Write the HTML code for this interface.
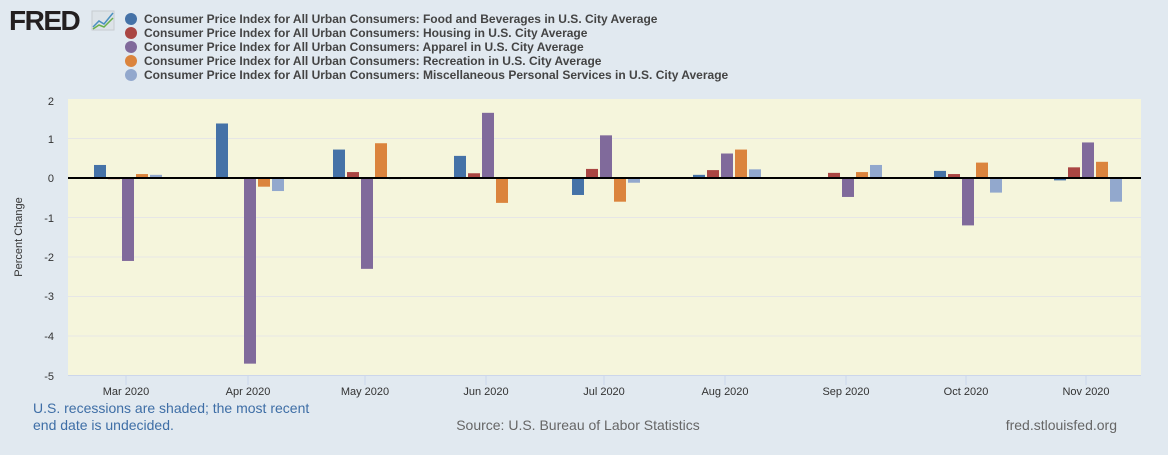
<!DOCTYPE html>
<html><head><meta charset="utf-8"><style>
body{margin:0;background:#e1e9f0;font-family:"Liberation Sans",sans-serif;}
</style></head><body>
<svg width="1168" height="450" xmlns="http://www.w3.org/2000/svg" font-family="Liberation Sans, sans-serif">
<rect width="1168" height="450" fill="#e1e9f0"/>
<text x="9" y="30" font-size="28" font-weight="bold" fill="#231f20" letter-spacing="-1.5">FRED</text>
<rect x="92" y="11" width="22" height="19" fill="#dde3e8" stroke="#c8ccd0"/>
<polyline points="93,27 99,21 104,24 113,13" fill="none" stroke="#4a90c0" stroke-width="1.5"/>
<polyline points="93,29 99,25 104,27 113,18" fill="none" stroke="#6ab04c" stroke-width="1.5"/>
<g font-size="12" font-weight="bold" fill="#444">
<circle cx="131" cy="19" r="6" fill="#4572a7"/><text x="144" y="23">Consumer Price Index for All Urban Consumers: Food and Beverages in U.S. City Average</text>
<circle cx="131" cy="33" r="6" fill="#aa4643"/><text x="144" y="37">Consumer Price Index for All Urban Consumers: Housing in U.S. City Average</text>
<circle cx="131" cy="47" r="6" fill="#806a9b"/><text x="144" y="51">Consumer Price Index for All Urban Consumers: Apparel in U.S. City Average</text>
<circle cx="131" cy="61" r="6" fill="#db843d"/><text x="144" y="65">Consumer Price Index for All Urban Consumers: Recreation in U.S. City Average</text>
<circle cx="131" cy="75" r="6" fill="#92a8cd"/><text x="144" y="79">Consumer Price Index for All Urban Consumers: Miscellaneous Personal Services in U.S. City Average</text>
</g>
<rect x="68" y="99" width="1073" height="276" fill="#f5f5dc"/>
<g stroke="#e6e6e6" stroke-width="1">
<line x1="68" x2="1141" y1="138.5" y2="138.5"/><line x1="68" x2="1141" y1="217.5" y2="217.5"/>
<line x1="68" x2="1141" y1="257" y2="257"/><line x1="68" x2="1141" y1="296.5" y2="296.5"/><line x1="68" x2="1141" y1="336" y2="336"/>
</g>
<line x1="68" x2="1141" y1="375.5" y2="375.5" stroke="#ccd6eb"/>
<g font-size="11" fill="#333" text-anchor="end">
<text x="54" y="105">2</text><text x="54" y="143">1</text><text x="54" y="182">0</text><text x="54" y="222">-1</text><text x="54" y="261">-2</text><text x="54" y="300">-3</text><text x="54" y="340">-4</text><text x="54" y="380">-5</text>
</g>
<text transform="translate(22,237) rotate(-90)" font-size="11" fill="#333" text-anchor="middle">Percent Change</text>
<g id="bars"></g>
<line x1="68" x2="1141" y1="178" y2="178" stroke="#000" stroke-width="2"/>
<g id="ticks" font-size="11" fill="#333" text-anchor="middle"></g>
<text x="33" y="413" font-size="14" fill="#3e6ea6">U.S. recessions are shaded; the most recent</text>
<text x="33" y="430" font-size="14" fill="#3e6ea6">end date is undecided.</text>
<text x="578" y="430" font-size="14" fill="#666" text-anchor="middle">Source: U.S. Bureau of Labor Statistics</text>
<text x="1117" y="430" font-size="14" fill="#666" text-anchor="end">fred.stlouisfed.org</text>
<script>
var ns="http://www.w3.org/2000/svg";
var ticks=[126,248,365,486,604,725,846,966,1086];
var names=["Mar 2020","Apr 2020","May 2020","Jun 2020","Jul 2020","Aug 2020","Sep 2020","Oct 2020","Nov 2020"];
var d=[[0.33,-0.03,-2.1,0.1,0.08],[1.38,0,-4.7,-0.22,-0.33],[0.72,0.15,-2.3,0.88,-0.03],[0.56,0.12,1.65,-0.63,0],[-0.43,0.23,1.08,-0.6,-0.12],[0.08,0.2,0.62,0.72,0.22],[0,0.13,-0.48,0.15,0.33],[0.18,0.1,-1.2,0.39,-0.37],[-0.06,0.27,0.9,0.41,-0.6]];
var col=["#4572a7","#aa4643","#806a9b","#db843d","#92a8cd"];
var b=document.getElementById("bars"),t=document.getElementById("ticks");
for(var i=0;i<9;i++){
 var tk=document.createElementNS(ns,"line");tk.setAttribute("x1",ticks[i]);tk.setAttribute("x2",ticks[i]);tk.setAttribute("y1",375);tk.setAttribute("y2",385);tk.setAttribute("stroke","#ccd6eb");t.appendChild(tk);
 var tx=document.createElementNS(ns,"text");tx.setAttribute("x",ticks[i]);tx.setAttribute("y",395);tx.textContent=names[i];t.appendChild(tx);
 for(var k=0;k<5;k++){var v=d[i][k];if(v==0)continue;
  var r=document.createElementNS(ns,"rect");var cx=ticks[i]+2+(k-2)*14;
  var h=Math.abs(v)*39.5;r.setAttribute("x",cx-6);r.setAttribute("width",12);
  r.setAttribute("y",v>0?178-h:178);r.setAttribute("height",h);r.setAttribute("fill",col[k]);b.appendChild(r);}
}
</script>
</svg>
</body></html>
